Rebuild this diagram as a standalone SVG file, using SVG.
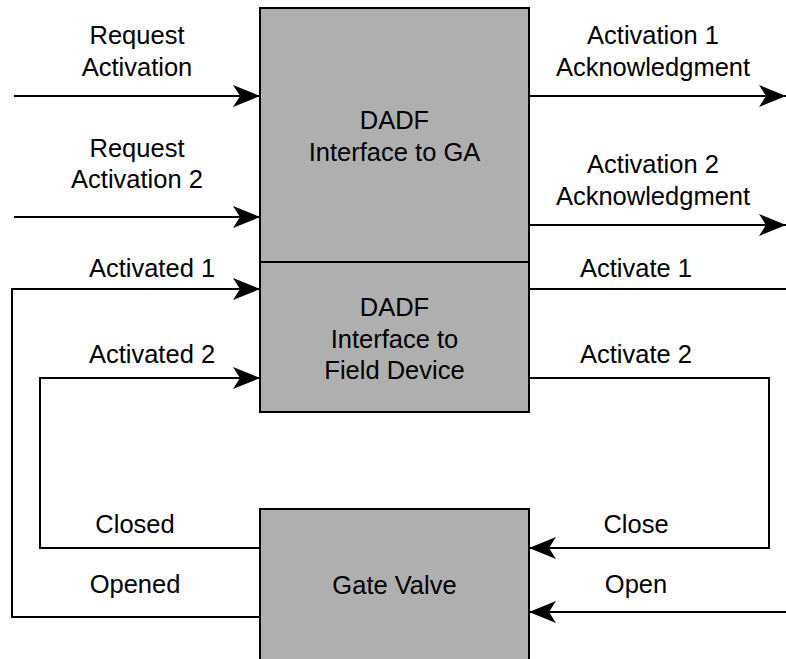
<svg xmlns="http://www.w3.org/2000/svg" width="786" height="659" viewBox="0 0 786 659">
  <style>
    .box { fill: #afafaf; stroke: #000; stroke-width: 2; }
    .wire { fill: none; stroke: #000; stroke-width: 2; }
    .arrow { marker-end: url(#head); }
    text { font-family: "Liberation Sans", Arial, sans-serif; font-size: 25.5px; fill: #000; text-anchor: middle; }
  </style>
  <defs>
    <marker id="head" markerUnits="userSpaceOnUse" markerWidth="28" markerHeight="24" viewBox="0 0 28 24" refX="27" refY="12" orient="auto">
      <path d="M0,1 L27,12 L0,23 L7,12 Z" fill="#000"/>
    </marker>
  </defs>

  <rect width="786" height="659" fill="#fff"/>

  <!-- Nodes -->
  <g id="node-ga">
    <rect class="box" x="260" y="8" width="269" height="254"/>
    <text x="394.5" y="129">DADF</text>
    <text x="394.5" y="161">Interface to GA</text>
  </g>

  <g id="node-field">
    <rect class="box" x="260" y="262" width="269" height="150"/>
    <text x="394.5" y="316">DADF</text>
    <text x="394.5" y="347.5">Interface to</text>
    <text x="394.5" y="379">Field Device</text>
  </g>

  <g id="node-valve">
    <rect class="box" x="260" y="509" width="269" height="152"/>
    <text x="394.5" y="594">Gate Valve</text>
  </g>

  <!-- Connectors -->
  <g id="connectors">
    <path class="wire arrow" d="M14,96 H260"/>
    <path class="wire arrow" d="M14,217 H260"/>
    <path class="wire arrow" d="M529,96 H786"/>
    <path class="wire arrow" d="M529,225 H786"/>
    <path class="wire arrow" d="M260,617 H12 V289 H260"/>
    <path class="wire arrow" d="M260,548 H40 V378 H260"/>
    <path class="wire" d="M529,289 H786"/>
    <path class="wire arrow" d="M529,378 H769 V548 H529"/>
    <path class="wire arrow" d="M786,612 H529"/>
  </g>

  <!-- Connector labels -->
  <g id="labels">
    <text x="137" y="44">Request</text>
    <text x="137" y="76">Activation</text>
    <text x="137" y="157">Request</text>
    <text x="137" y="188">Activation 2</text>
    <text x="152" y="277">Activated 1</text>
    <text x="152" y="363">Activated 2</text>
    <text x="135" y="533">Closed</text>
    <text x="135" y="593">Opened</text>

    <text x="653" y="44">Activation 1</text>
    <text x="653" y="76">Acknowledgment</text>
    <text x="653" y="173">Activation 2</text>
    <text x="653" y="205">Acknowledgment</text>
    <text x="636" y="277">Activate 1</text>
    <text x="636" y="363">Activate 2</text>
    <text x="636" y="533">Close</text>
    <text x="636" y="593">Open</text>
  </g>
</svg>
